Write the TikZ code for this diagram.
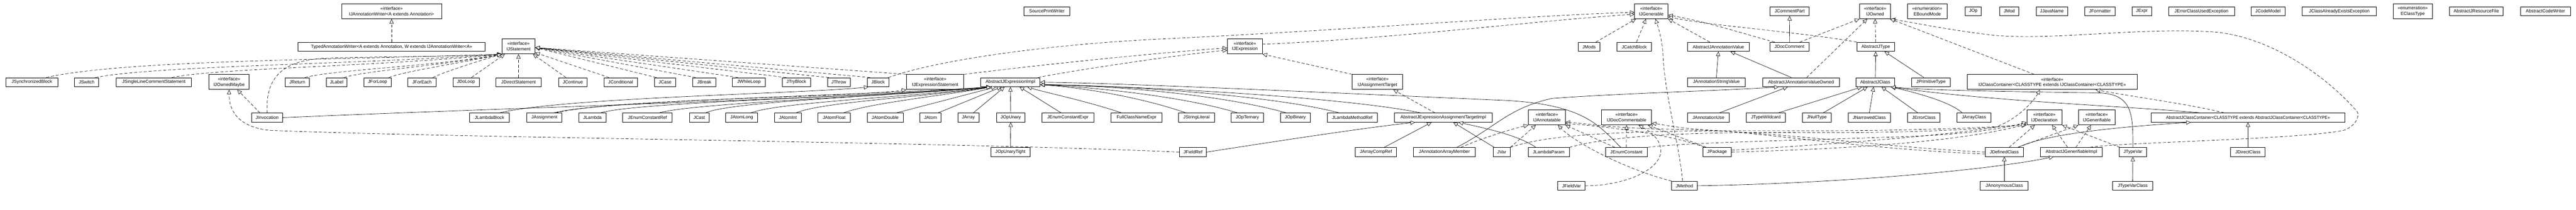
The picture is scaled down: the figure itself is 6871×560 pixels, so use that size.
\documentclass[tikz,border=0pt]{standalone}
\usepackage{graphicx}
\usepackage{fontspec}
\setmainfont{Liberation Sans}
\usetikzlibrary{arrows.meta,calc}
\tikzset{
 cls/.style={draw, line width=1.2pt, rectangle, inner sep=0pt, minimum height=24pt, align=center, fill=white, font=\fontsize{12}{15}\selectfont},
 ifc/.style={cls, minimum height=40pt},
 real/.style={line width=0.9pt, dash pattern=on 8pt off 5pt, -{Triangle[length=12pt,width=11pt,fill=white]}},
 gen/.style={line width=0.9pt, -{Triangle[length=12pt,width=11pt,fill=white]}},
}
\begin{document}
\begin{tikzpicture}[x=1pt,y=-1pt]
\fill[white] (0,0) rectangle (6871,560);
\useasboundingbox (0,0) rectangle (6871,560);
% ---------- top row
\node[ifc, minimum width=267pt] (iaw) at (1044.5,30) {«interface»\\IJAnnotationWriter<A extends Annotation>};
\node[cls, minimum width=123pt] (spw) at (2792.5,30) {SourcePrintWriter};
\node[ifc, minimum width=89pt] (igen) at (4404.5,30) {«interface»\\IJGenerable};
\node[cls, minimum width=105pt] (jcp) at (4773.5,30) {JCommentPart};
\node[ifc, minimum width=83pt] (iown) at (5001.5,30) {«interface»\\IJOwned};
\node[ifc, minimum width=105pt] (ebm) at (5140.5,30) {«enumeration»\\EBoundMode};
\node[cls, minimum width=43pt] (jop) at (5263.5,30) {JOp};
\node[cls, minimum width=51pt] (jmod) at (5359.5,30) {JMod};
\node[cls, minimum width=84pt] (jjn) at (5473,30) {JJavaName};
\node[cls, minimum width=82pt] (jfmt) at (5601,30) {JFormatter};
\node[cls, minimum width=52pt] (jexpr) at (5713,30) {JExpr};
\node[cls, minimum width=176pt] (jecue) at (5872,30) {JErrorClassUsedException};
\node[cls, minimum width=91pt] (jcm) at (6049.5,30) {JCodeModel};
\node[cls, minimum width=197pt] (jcaee) at (6239.5,30) {JClassAlreadyExistsException};
\node[ifc, minimum width=105pt] (ect) at (6435.5,30) {«enumeration»\\EClassType};
\node[cls, minimum width=144pt] (ajrf) at (6605,30) {AbstractJResourceFile};
\node[cls, minimum width=133pt] (acw) at (6789.5,30) {AbstractCodeWriter};
% ---------- row 1
\node[cls, minimum width=499pt] (taw) at (1044.5,125) {TypedAnnotationWriter<A extends Annotation, W extends IJAnnotationWriter<A>>};
\node[ifc, minimum width=88pt] (ist) at (1383,124) {«interface»\\IJStatement};
\node[ifc, minimum width=93pt] (iexp) at (3320.5,124) {«interface»\\IJExpression};
\node[cls, minimum width=57pt] (jmods) at (4238.5,125) {JMods};
\node[cls, minimum width=92pt] (jcb) at (4359,125) {JCatchBlock};
\node[cls, minimum width=165pt] (ajav) at (4583.5,125) {AbstractJAnnotationValue};
\node[cls, minimum width=104pt] (jdc) at (4773,125) {JDocComment};
\node[cls, minimum width=100pt] (ajt) at (5003,125) {AbstractJType};
% ---------- row 2
\node[cls, minimum width=138pt] (jsb) at (85,219.5) {JSynchronizedBlock};
\node[cls, minimum width=64pt] (jsw) at (231,219.5) {JSwitch};
\node[cls, minimum width=201pt] (jslcs) at (410.5,219.5) {JSingleLineCommentStatement};
\node[ifc, minimum width=108pt] (iom) at (611,219) {«interface»\\IJOwnedMaybe};
\node[cls, minimum width=64pt] (jret) at (793,219.5) {JReturn};
\node[cls, minimum width=56pt] (jlab) at (898,219.5) {JLabel};
\node[cls, minimum width=72pt] (jfl) at (1007,219.5) {JForLoop};
\node[cls, minimum width=75pt] (jfe) at (1125.5,219.5) {JForEach};
\node[cls, minimum width=70pt] (jdl) at (1243,219.5) {JDoLoop};
\node[cls, minimum width=120pt] (jds) at (1383,219.5) {JDirectStatement};
\node[cls, minimum width=76pt] (jcont) at (1528,219.5) {JContinue};
\node[cls, minimum width=89pt] (jcond) at (1655.5,219.5) {JConditional};
\node[cls, minimum width=56pt] (jcase) at (1774,219.5) {JCase};
\node[cls, minimum width=61pt] (jbrk) at (1878.5,219.5) {JBreak};
\node[cls, minimum width=87pt] (jwl) at (1997.5,219.5) {JWhileLoop};
\node[cls, minimum width=76pt] (jtb) at (2124,219.5) {JTryBlock};
\node[cls, minimum width=61pt] (jthr) at (2237.5,219.5) {JThrow};
\node[cls, minimum width=58pt] (jblk) at (2342,219.5) {JBlock};
\node[ifc, minimum width=153pt] (iexs) at (2494.5,219) {«interface»\\IJExpressionStatement};
\node[cls, minimum width=158pt] (ajei) at (2695,219.5) {AbstractJExpressionImpl};
\node[ifc, minimum width=134pt] (iat) at (3674,219) {«interface»\\IJAssignmentTarget};
\node[cls, minimum width=154pt] (jasv) at (4578,219.5) {JAnnotationStringValue};
\node[cls, minimum width=204pt] (ajavo) at (4804,219.5) {AbstractJAnnotationValueOwned};
\node[cls, minimum width=102pt] (ajc) at (5002,219.5) {AbstractJClass};
\node[cls, minimum width=103pt] (jpt) at (5150.5,219.5) {JPrimitiveType};
\node[ifc, minimum width=454pt] (icc) at (5474,219) {«interface»\\IJClassContainer<CLASSTYPE extends IJClassContainer<CLASSTYPE>>};
% ---------- row 3
\node[cls, minimum width=83pt] (jinv) at (712.5,314) {JInvocation};
\node[cls, minimum width=105pt] (jlb) at (1305.5,314) {JLambdaBlock};
\node[cls, minimum width=94pt] (jasg) at (1452,314) {JAssignment};
\node[cls, minimum width=73pt] (jlam) at (1580.5,314) {JLambda};
\node[cls, minimum width=132pt] (jecr) at (1727,314) {JEnumConstantRef};
\node[cls, minimum width=52pt] (jcast) at (1865,314) {JCast};
\node[cls, minimum width=85pt] (jal) at (1978.5,314) {JAtomLong};
\node[cls, minimum width=71pt] (jai) at (2101.5,314) {JAtomInt};
\node[cls, minimum width=86pt] (jaf) at (2225,314) {JAtomFloat};
\node[cls, minimum width=96pt] (jad) at (2361,314) {JAtomDouble};
\node[cls, minimum width=56pt] (jatom) at (2482,314) {JAtom};
\node[cls, minimum width=56pt] (jarr) at (2583,314) {JArray};
\node[cls, minimum width=76pt] (jopu) at (2696,314) {JOpUnary};
\node[cls, minimum width=139pt] (jece) at (2848.5,314) {JEnumConstantExpr};
\node[cls, minimum width=135pt] (fcne) at (3031.5,314) {FullClassNameExpr};
\node[cls, minimum width=95pt] (jsl) at (3191.5,314) {JStringLiteral};
\node[cls, minimum width=86pt] (jopt) at (3327,314) {JOpTernary};
\node[cls, minimum width=80pt] (jopb) at (3455,314) {JOpBinary};
\node[cls, minimum width=134pt] (jlmr) at (3607,314) {JLambdaMethodRef};
\node[cls, minimum width=261pt] (ajeati) at (3849.5,314) {AbstractJExpressionAssignmentTargetImpl};
\node[ifc, minimum width=98pt] (iann) at (4126,313.5) {«interface»\\IJAnnotatable};
\node[ifc, minimum width=133pt] (idc) at (4338.5,313.5) {«interface»\\IJDocCommentable};
\node[cls, minimum width=112pt] (jau) at (4557,314) {JAnnotationUse};
\node[cls, minimum width=104pt] (jtw) at (4710,314) {JTypeWildcard};
\node[cls, minimum width=76pt] (jnt) at (4846,314) {JNullType};
\node[cls, minimum width=112pt] (jnc) at (4986,314) {JNarrowedClass};
\node[cls, minimum width=87pt] (jec) at (5131.5,314) {JErrorClass};
\node[cls, minimum width=90pt] (jac) at (5265,314) {JArrayClass};
\node[ifc, minimum width=94pt] (idecl) at (5453,313.5) {«interface»\\IJDeclaration};
\node[ifc, minimum width=97pt] (igenf) at (5592.5,313.5) {«interface»\\IJGenerifiable};
\node[cls, minimum width=516pt] (ajcc) at (5996,314) {\scalebox{0.92}[1]{AbstractJClassContainer<CLASSTYPE extends AbstractJClassContainer<CLASSTYPE>>}};
% ---------- row 4
\node[cls, minimum width=104pt] (jout) at (2695,406) {JOpUnaryTight};
\node[cls, minimum width=72pt] (jfr) at (3182,406) {JFieldRef};
\node[cls, minimum width=110pt] (jacr) at (3670,406) {JArrayCompRef};
\node[cls, minimum width=165pt] (jaam) at (3852.5,406) {JAnnotationArrayMember};
\node[cls, minimum width=45pt] (jvar) at (4005.5,406) {JVar};
\node[cls, minimum width=110pt] (jlp) at (4131,406) {JLambdaParam};
\node[cls, minimum width=112pt] (jenc) at (4338,406) {JEnumConstant};
\node[cls, minimum width=76pt] (jpkg) at (4580,406) {JPackage};
\node[cls, minimum width=102pt] (jdefc) at (5346,406) {JDefinedClass};
\node[cls, minimum width=164pt] (ajgi) at (5525,406) {AbstractJGenerifiableImpl};
\node[cls, minimum width=74pt] (jtv) at (5689,406) {JTypeVar};
\node[cls, minimum width=92pt] (jdirc) at (5996,406) {JDirectClass};
% ---------- row 5
\node[cls, minimum width=73pt] (jfv) at (4191.5,496) {JFieldVar};
\node[cls, minimum width=68pt] (jmeth) at (4493,496) {JMethod};
\node[cls, minimum width=128pt] (janc) at (5346,496) {JAnonymousClass};
\node[cls, minimum width=107pt] (jtvc) at (5688.5,496) {JTypeVarClass};

% ================= connectors
\draw[real] (taw.north) -- (iaw.south);
% IJStatement, left group
\draw[real] ($(jsb.north west)+(108,0)$) .. controls (330,160) and (900,160) .. (ist.south west);
\draw[real] ($(jsw.north west)+(56,0)$) .. controls (420,175) and (950,172) .. (ist.south west);
\draw[real] ($(jslcs.north west)+(149,0)$) .. controls (580,182) and (1000,178) .. (ist.south west);
\draw[real] (jinv.north) .. controls (708,215) and (745,163) .. (860,156) .. controls (1000,150) and (1200,152) .. (ist.south west);
\draw[real] ($(jret.north west)+(53,0)$) .. controls (900,185) and (1150,178) .. (ist.south west);
\draw[real] ($(jlab.north west)+(48,0)$) .. controls (980,188) and (1180,175) .. (ist.south west);
\draw[real] ($(jfl.north west)+(67,0)$) .. controls (1080,190) and (1220,170) .. (ist.south west);
\draw[real] ($(jfe.north west)+(67,0)$) .. controls (1190,190) and (1280,162) .. (ist.south west);
\draw[real] ($(jdl.north west)+(50,0)$) -- ($(ist.south west)+(8,0)$);
\draw[real] (jds.north) -- (ist.south);
\draw[real] ($(jcont.north west)+(20,0)$) -- ($(ist.south east)+(-6,0)$);
\draw[real] ($(jcond.north west)+(14,0)$) -- ($(ist.south east)+(0,-4)$);
% IJStatement, right group
\draw[real] ($(jcase.north west)+(5,0)$) -- ($(ist.east)+(0,3)$);
\draw[real] ($(jbrk.north west)+(8,0)$) -- ($(ist.east)+(0,3)$);
\draw[real] ($(jwl.north west)+(15,0)$) -- ($(ist.east)+(0,3)$);
\draw[real] ($(jtb.north west)+(11,0)$) -- ($(ist.east)+(0,3)$);
\draw[real] ($(jthr.north west)+(4,0)$) -- ($(ist.east)+(0,3)$);
\draw[real] ($(jblk.north west)+(8,0)$) -- ($(ist.east)+(0,3)$);
\draw[real] (iexs.north west) -- ($(ist.east)+(0,3)$);
% IJExpressionStatement
\draw[real] (iexs.north east) .. controls (2800,170) and (3100,140) .. ($(iexp.west)+(0,4)$);
\draw[real] ($(jasg.north)+(30,0)$) .. controls (1650,262) and (2250,262) .. (iexs.south west);
% JBlock
\draw[gen] ($(jlb.north)+(27,0)$) .. controls (1500,260) and (2150,250) .. ($(jblk.south west)+(4,0)$);
% AbstractJExpressionImpl, left
\draw[gen] (jinv.east) .. controls (1300,290) and (2300,262) .. ($(ajei.south west)+(28,0)$);
\draw[gen] ($(jasg.north)+(25,0)$) .. controls (1600,268) and (2300,255) .. ($(ajei.south west)+(28,0)$);
\draw[gen] ($(jlam.north)+(21,0)$) .. controls (1700,272) and (2300,260) .. ($(ajei.south west)+(28,0)$);
\draw[gen] ($(jecr.north)+(31,0)$) .. controls (1850,275) and (2350,258) .. ($(ajei.south west)+(28,0)$);
\draw[gen] ($(jcast.north)+(17,0)$) .. controls (1950,270) and (2400,255) .. ($(ajei.south west)+(28,0)$);
\draw[gen] ($(jal.north)+(24,0)$) .. controls (2080,272) and (2450,258) .. ($(ajei.south west)+(28,0)$);
\draw[gen] ($(jai.north)+(22,0)$) .. controls (2190,272) and (2480,258) .. ($(ajei.south west)+(28,0)$);
\draw[gen] ($(jaf.north)+(25,0)$) .. controls (2320,275) and (2520,255) .. ($(ajei.south west)+(28,0)$);
\draw[gen] ($(jad.north)+(30,0)$) -- ($(ajei.south west)+(41,0)$);
\draw[gen] ($(jatom.north)+(20,0)$) -- ($(ajei.south west)+(56,0)$);
\draw[gen] ($(jarr.north)+(13,0)$) -- ($(ajei.south west)+(64,0)$);
\draw[gen] (jopu.north) -- (ajei.south);
\draw[gen] ($(jece.north)+(-18,0)$) -- ($(ajei.south west)+(104,0)$);
\draw[gen] ($(fcne.north)+(-40,0)$) .. controls (2900,270) and (2780,245) .. ($(ajei.south west)+(125,0)$);
% AbstractJExpressionImpl, right
\draw[gen] ($(jsl.north)+(-28,0)$) .. controls (3050,262) and (2900,235) .. ($(ajei.south east)+(0,-6)$);
\draw[gen] ($(jopt.north)+(-26,0)$) .. controls (3150,255) and (2900,232) .. ($(ajei.south east)+(0,-6)$);
\draw[gen] ($(jopb.north)+(-24,0)$) .. controls (3250,250) and (2950,228) .. ($(ajei.south east)+(0,-6)$);
\draw[gen] ($(jlmr.north)+(-35,0)$) .. controls (3400,255) and (3000,228) .. ($(ajei.south east)+(0,-6)$);
\draw[gen] ($(ajeati.north)+(-60,0)$) .. controls (3600,262) and (3100,232) .. ($(ajei.south east)+(0,-6)$);
\draw[gen] ($(jenc.north)+(-15,0)$) .. controls (4260,330) and (4220,275) .. (3990,267) .. controls (3600,250) and (3000,222) .. (ajei.east);
\draw[gen] (jout.north) -- (jopu.south);
% IJOwnedMaybe
\draw[real] ($(jinv.north west)+(23,0)$) -- ($(iom.south)+(22,0)$);
\draw[real] (jfr.west) .. controls (2500,378) and (1200,368) .. (720,348) .. controls (640,340) and (611,300) .. (iom.south);
% assignment targets
\draw[real] ($(ajeati.north)+(-22,0)$) -- ($(iat.south east)+(-25,0)$);
\draw[real] (iat.north west) -- (iexp.south east);
\draw[gen] ($(jacr.north)+(22,0)$) -- ($(ajeati.south west)+(100,0)$);
\draw[gen] (jfr.east) .. controls (3450,370) and (3650,340) .. ($(ajeati.south west)+(56,0)$);
\draw[gen] ($(jvar.north west)+(3,0)$) -- ($(ajeati.south west)+(158,0)$);
\draw[gen] ($(jlp.north west)+(21,0)$) .. controls (4050,360) and (3950,340) .. ($(ajeati.south west)+(172,0)$);
% AbstractJClass
\draw[gen] ($(jtw.north)+(33,0)$) -- ($(ajc.south west)+(16,0)$);
\draw[gen] ($(jnt.north)+(17,0)$) -- ($(ajc.south west)+(31,0)$);
\draw[gen] (jnc.north) -- ($(ajc.south west)+(47,0)$);
\draw[gen] ($(jec.north)+(-16,0)$) -- ($(ajc.south west)+(68,0)$);
\draw[gen] ($(jac.north)+(-31,0)$) .. controls (5200,270) and (5100,245) .. ($(ajc.south east)+(-10,0)$);
\draw[gen] ($(ajcc.north west)+(132,0)$) .. controls (5700,285) and (5300,270) .. ($(ajc.south east)+(-10,0)$);
\draw[gen] (jtv.north) .. controls (5690,300) and (5685,252) .. (5600,248) .. controls (5400,245) and (5150,242) .. ($(ajc.south east)+(-10,0)$);
\draw[gen] (ajc.north) -- (ajt.south);
\draw[gen] ($(jpt.north west)+(33,0)$) -- ($(ajt.south east)+(-27,0)$);
\draw[real] (ajt.north) -- (iown.south);
\draw[gen] (jdc.north) -- (jcp.south);
\draw[real] ($(jdc.north east)+(-25,0)$) -- (iown.south west);
\draw[real] ($(ajavo.north)+(15,0)$) -- ($(iown.south west)+(21,0)$);
\draw[gen] ($(ajavo.north)+(-26,0)$) -- ($(ajav.south east)+(-51,0)$);
\draw[gen] (jasv.north) -- (ajav.south);
\draw[gen] ($(jau.north)+(29,0)$) -- ($(ajavo.south west)+(67,0)$);
\draw[gen] ($(jaam.north)+(33,0)$) .. controls (3990,340) and (4020,290) .. (4138,263) .. controls (4300,250) and (4600,242) .. ($(ajavo.south west)+(43,0)$);
\draw[real] ($(jaam.north)+(44,0)$) .. controls (3950,370) and (4030,345) .. (iann.south west);
% IJAnnotatable
\draw[real] (jvar.north east) -- ($(iann.south west)+(20,0)$);
\draw[real] (jmeth.north west) .. controls (4330,450) and (4200,380) .. ($(iann.south east)+(-20,0)$);
\draw[real] ($(jenc.north west)+(26,0)$) -- (iann.south east);
\draw[real] (jdefc.west) .. controls (5000,392) and (4750,350) .. (4450,345) .. controls (4300,342) and (4230,330) .. ($(iann.south east)+(0,-8)$);
\draw[real] ($(jpkg.north west)+(5,0)$) .. controls (4480,365) and (4300,338) .. ($(iann.south east)+(0,-4)$);
% IJDocCommentable
\draw[real] (jenc.north) -- (idc.south);
\draw[real] (jfv.east) .. controls (4330,496) and (4432,455) .. (4430,400) .. controls (4428,370) and (4400,350) .. ($(idc.south east)+(-35,0)$);
\draw[real] ($(jpkg.north west)+(10,0)$) -- ($(idc.south east)+(-10,0)$);
\draw[real] ($(jdefc.west)+(0,5)$) .. controls (5000,400) and (4700,355) .. (4570,348) .. controls (4480,343) and (4430,332) .. ($(idc.south east)+(0,-5)$);
% IJDeclaration
\draw[real] (jvar.north east) .. controls (4150,352) and (4400,348) .. (4800,349) .. controls (5100,350) and (5300,340) .. (idecl.south west);
\draw[real] (jlp.north east) .. controls (4300,362) and (4500,352) .. (4800,354) .. controls (5100,356) and (5300,345) .. ($(idecl.south west)+(0,-4)$);
\draw[real] (jenc.north east) .. controls (4500,380) and (4800,375) .. (5100,364) .. controls (5250,358) and (5350,342) .. ($(idecl.south west)+(0,-8)$);
\draw[real] (jpkg.east) .. controls (5000,396) and (5250,372) .. ($(idecl.south west)+(-2,-2)$);
\draw[real] ($(jpkg.east)+(0,-5)$) .. controls (4900,385) and (5200,360) .. (5320,340) .. controls (5380,320) and (5425,270) .. ($(icc.south)+(-33,0)$);
\draw[real] ($(jdefc.north)+(13,0)$) -- ($(idecl.south west)+(22,0)$);
\draw[real] ($(ajgi.north)+(-10,0)$) -- ($(idecl.south west)+(68,0)$);
\draw[real] ($(jtv.north west)+(3,0)$) -- (idecl.south east);
% IJGenerifiable
\draw[real] ($(jdefc.north)+(36,0)$) -- (igenf.south west);
\draw[real] ($(ajgi.north)+(12,0)$) -- ($(igenf.south west)+(34,0)$);
% class containers
\draw[gen] ($(jdefc.north east)+(-15,0)$) .. controls (5450,362) and (5600,342) .. ($(ajcc.south west)+(106,0)$);
\draw[gen] (janc.north) -- (jdefc.south);
\draw[gen] (jtvc.north) -- (jtv.south);
\draw[gen] (jdirc.north) -- (ajcc.south);
\draw[gen] (jmeth.east) .. controls (4900,490) and (5300,455) .. ($(ajgi.south west)+(35,0)$);
\draw[real] ($(ajgi.north east)+(-33,0)$) .. controls (5650,380) and (6150,372) .. (6255,347) .. controls (6292,330) and (6297,300) .. (6280,290) .. controls (6200,200) and (6050,95) .. (5900,85) .. controls (5700,72) and (5450,112) .. (5300,92) .. controls (5200,80) and (5100,60) .. (iown.south east);
\draw[real] ($(icc.north west)+(179,0)$) -- ($(iown.south east)+(-2,0)$);
\draw[real] ($(ajcc.north west)+(195,0)$) .. controls (5850,280) and (5700,260) .. ($(icc.south east)+(-112,0)$);
% IJGenerable
\draw[real] ($(jblk.north east)+(-2,0)$) .. controls (2500,160) and (2800,118) .. (3100,104) .. controls (3600,80) and (4100,40) .. ($(igen.west)+(0,3)$);
\draw[real] ($(iexp.east)+(0,-6)$) .. controls (3700,105) and (4100,55) .. ($(igen.west)+(0,8)$);
\draw[real] ($(jmods.north)+(18,0)$) -- ($(igen.south west)+(4,0)$);
\draw[real] ($(jcb.north)+(6,0)$) -- ($(igen.south west)+(31,0)$);
\draw[real] ($(jmeth.north)+(-5,0)$) .. controls (4478,380) and (4440,250) .. (4436,150) .. controls (4433,100) and (4422,70) .. ($(igen.south east)+(-34,0)$);
\draw[real] ($(ajav.north)+(-23,0)$) -- (igen.south east);
\draw[real] ($(jdc.north west)+(13,0)$) .. controls (4650,90) and (4560,60) .. ($(igen.east)+(0,10)$);
\draw[real] (ajt.north west) .. controls (4800,85) and (4570,70) .. ($(igen.east)+(0,15)$);
% IJExpression
\draw[real] ($(ajei.north east)+(-6,0)$) .. controls (2850,190) and (3150,145) .. ($(iexp.west)+(0,10)$);
\end{tikzpicture}
\end{document}
